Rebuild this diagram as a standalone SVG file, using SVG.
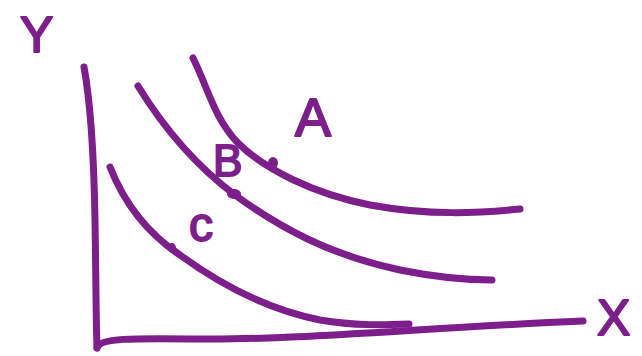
<svg xmlns="http://www.w3.org/2000/svg" width="642" height="356" viewBox="0 0 642 356">
<style>
.ln{fill:none;stroke:#7D1F8B;stroke-width:7;stroke-linecap:round;stroke-linejoin:round}
.lb{font-family:"Liberation Sans",Arial,sans-serif;fill:#7D1F8B;stroke:#7D1F8B;stroke-width:2;stroke-linejoin:round}
.dot{fill:#7D1F8B}
</style>
<rect width="642" height="356" fill="#fff"/>
<g id="axes">
<path class="ln" d="M84,67 C90,100 94,160 95,220 C96,280 96,320 97,348"/>
<path class="ln" d="M97,348 C100,338 130,338 200,339 C300,340 420,328 583,321"/>
</g>
<g id="curve-A">
<path class="ln" d="M193,58 C208,88 214,118 238,143 C265,170 315,194 370,205 C430,216 480,213 520,209"/>
<ellipse class="dot" cx="273" cy="163" rx="5" ry="6"/>
</g>
<g id="curve-B">
<path class="ln" d="M138,86 C165,130 195,165 235,195 C280,228 330,255 400,270 C440,278 470,280 492,280"/>
<ellipse class="dot" cx="234" cy="194" rx="7" ry="5"/>
</g>
<g id="curve-C">
<path class="ln" d="M110,167 C125,205 150,235 180,255 C225,288 270,310 320,320 C355,326 385,325 409,324"/>
<ellipse class="dot" cx="172" cy="248" rx="4" ry="5"/>
</g>
<g id="labels">
<text class="lb" x="20" y="52" font-size="50">Y</text>
<text class="lb" x="295" y="136" font-size="54">A</text>
<text class="lb" x="213" y="176" font-size="44">B</text>
<text class="lb" x="189" y="241" font-size="48">c</text>
<text class="lb" x="597" y="335" font-size="50">X</text>
</g>
</svg>
